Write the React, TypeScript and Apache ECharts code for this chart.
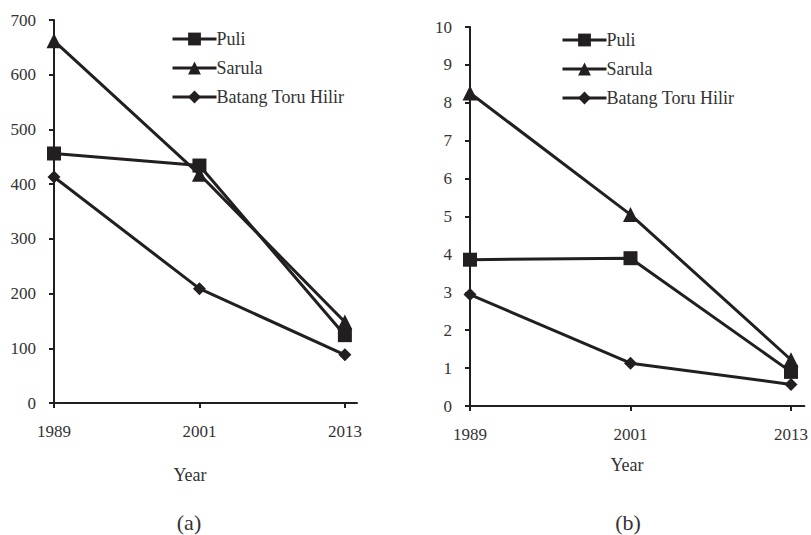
import React, { useEffect, useRef } from "react";
import * as echarts from "echarts";

const years = [1989, 2001, 2013];
const seriesNames = ["Puli", "Sarula", "Batang Toru Hilir"];
const symbols = ["rect", "triangle", "diamond"];
const symbolSizes = [14, 15, 13];

// panel (a)
const puliA = [456, 434, 124];
const sarulaA = [662, 418, 148];
const batangA = [413, 209, 88];
// panel (b)
const puliB = [3.86, 3.9, 0.9];
const sarulaB = [8.26, 5.05, 1.22];
const batangB = [2.94, 1.13, 0.57];

const yTicksA = { min: 0, max: 700, interval: 100 };
const yTicksB = { min: 0, max: 10, interval: 1 };

const INK = "#231f20";
const TEXT = "#333333";
const FONT = "Liberation Serif";

export default function App() {
  const ref = useRef<HTMLDivElement>(null);
  useEffect(() => {
    if (!ref.current) return;
    const chart = echarts.init(ref.current, undefined, { renderer: "svg" });
    const dataA = [puliA, sarulaA, batangA];
    const dataB = [puliB, sarulaB, batangB];

    const mkX = (gridIndex: number) => ({
      type: "value",
      gridIndex,
      min: 1989,
      max: 2014,
      axisLine: { show: true, onZero: false, lineStyle: { color: INK, width: 2 } },
      axisTick: { show: true, customValues: years, length: 5, lineStyle: { color: INK, width: 2 } },
      axisLabel: {
        customValues: years,
        formatter: (v: number) => String(v),
        color: TEXT,
        fontSize: 17,
        fontFamily: FONT,
        margin: 20,
      },
      splitLine: { show: false },
    });
    const mkY = (gridIndex: number, t: any) => ({
      type: "value",
      gridIndex,
      min: t.min,
      max: t.max,
      interval: t.interval,
      axisLine: { show: true, lineStyle: { color: INK, width: 2 } },
      axisTick: { show: true, length: 5, lineStyle: { color: INK, width: 2 } },
      axisLabel: { color: TEXT, fontSize: 17, fontFamily: FONT, margin: 18 },
      splitLine: { show: false },
    });

    const series: any[] = [];
    [dataA, dataB].forEach((d, gi) => {
      d.forEach((vals, i) => {
        series.push({
          type: "line",
          name: seriesNames[i],
          xAxisIndex: gi,
          yAxisIndex: gi,
          data: vals.map((v, k) => [years[k], v]),
          symbol: symbols[i],
          symbolSize: symbolSizes[i],
          lineStyle: { color: INK, width: 3 },
          itemStyle: { color: INK },
          z: 3 - i,
        });
      });
    });

    const mkLegend = (left: number, top: number) => ({
      orient: "vertical",
      left,
      top,
      padding: 0,
      itemWidth: 44,
      itemHeight: 16,
      itemGap: 11,
      data: seriesNames,
      lineStyle: { width: 3, color: INK },
      itemStyle: { color: INK },
      textStyle: { color: TEXT, fontSize: 18, fontFamily: FONT, padding: [0, 0, 0, -5] },
      selectedMode: false,
    });

    chart.setOption({
      animation: false,
      backgroundColor: "#ffffff",
      textStyle: { fontFamily: FONT },
      grid: [
        { left: 54, top: 20, width: 303, height: 383 },
        { left: 470, top: 27, width: 335, height: 379 },
      ],
      xAxis: [mkX(0), mkX(1)],
      yAxis: [mkY(0, yTicksA), mkY(1, yTicksB)],
      legend: [mkLegend(171, 30), mkLegend(561, 31)],
      series,
      graphic: [
        { type: "text", x: 190, y: 475, style: { text: "Year", fill: TEXT, fontSize: 18, fontFamily: FONT, align: "center", verticalAlign: "middle" } },
        { type: "text", x: 627, y: 465, style: { text: "Year", fill: TEXT, fontSize: 18, fontFamily: FONT, align: "center", verticalAlign: "middle" } },
        { type: "text", x: 189, y: 522, style: { text: "(a)", fill: TEXT, fontSize: 22, fontFamily: FONT, align: "center", verticalAlign: "middle" } },
        { type: "text", x: 628, y: 522, style: { text: "(b)", fill: TEXT, fontSize: 22, fontFamily: FONT, align: "center", verticalAlign: "middle" } },
      ],
    });
    return () => chart.dispose();
  }, []);
  return <div ref={ref} style={{ position: "absolute", left: 0, top: 0, width: 811, height: 535 }} />;
}
